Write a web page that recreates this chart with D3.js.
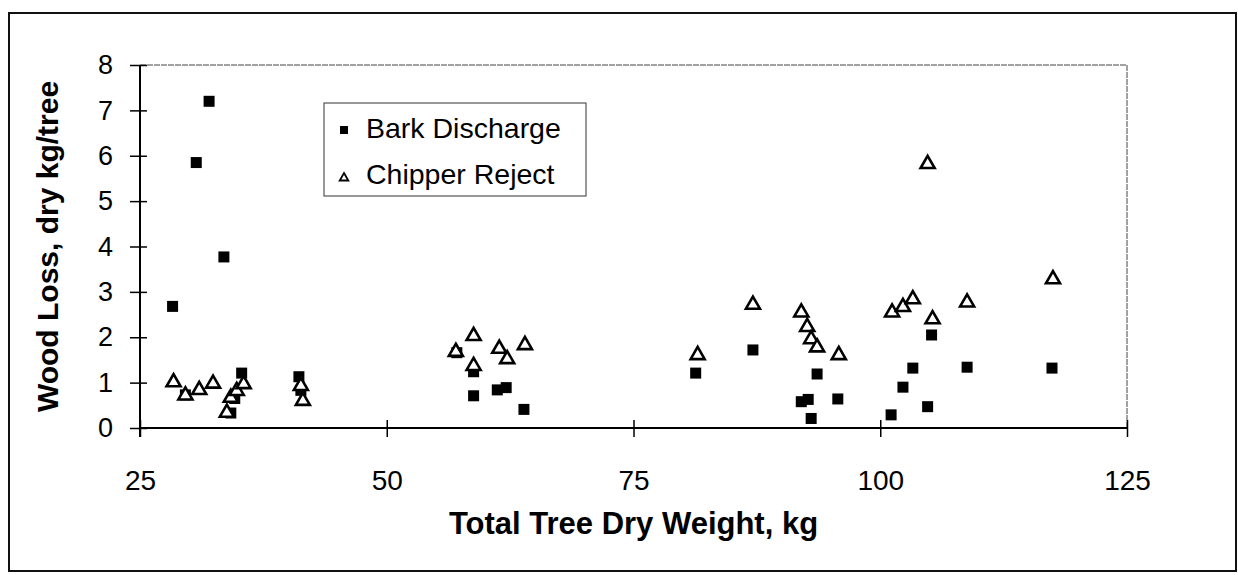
<!DOCTYPE html>
<html><head><meta charset="utf-8">
<script src="https://cdn.jsdelivr.net/npm/d3@7"></script>
<style>
html,body{margin:0;padding:0;background:#fff;}
svg{display:block;font-family:"Liberation Sans",Arial,sans-serif;}
</style></head>
<body>
<svg id="chart" width="1238" height="575"></svg>
<script>
// ---- data ----
const seriesNames = ["Bark Discharge", "Chipper Reject"];
const barkX = [28.3, 29.6, 30.7, 32.0, 33.5, 34.2, 34.6, 35.3, 41.1, 41.3, 57.1, 58.8, 58.8, 61.2, 62.1, 63.9, 81.3, 87.1, 92.0, 92.7, 93.0, 93.6, 95.7, 101.1, 102.3, 103.3, 104.8, 105.2, 108.8, 117.4];
const barkY = [2.68, 0.73, 5.85, 7.2, 3.77, 0.33, 0.65, 1.21, 1.13, 0.83, 1.66, 1.24, 0.71, 0.84, 0.89, 0.41, 1.21, 1.72, 0.58, 0.63, 0.21, 1.19, 0.64, 0.29, 0.90, 1.32, 0.47, 2.05, 1.34, 1.32];
const chipX = [28.4, 29.6, 31.0, 32.4, 33.8, 34.2, 34.8, 35.5, 41.3, 41.5, 57.0, 58.8, 58.8, 61.4, 62.2, 64.0, 81.5, 87.1, 92.0, 92.6, 93.0, 93.6, 95.8, 101.2, 102.3, 103.3, 104.8, 105.3, 108.8, 117.5];
const chipY = [1.03, 0.74, 0.86, 1.0, 0.36, 0.69, 0.84, 0.99, 0.95, 0.62, 1.70, 2.05, 1.39, 1.77, 1.54, 1.85, 1.63, 2.74, 2.57, 2.25, 1.98, 1.80, 1.63, 2.57, 2.69, 2.86, 5.84, 2.42, 2.79, 3.30];
const xTicks = [25, 50, 75, 100, 125];
const yTicks = [0, 1, 2, 3, 4, 5, 6, 7, 8];
const xTitle = "Total Tree Dry Weight, kg";
const yTitle = "Wood Loss, dry kg/tree";

// ---- layout ----
const svg = d3.select("#chart");
const L = 140, R = 1127, T = 65, B = 428;
const x = d3.scaleLinear().domain([25, 125]).range([L, R]);
const y = d3.scaleLinear().domain([0, 8]).range([B, T]);

// outer frame
svg.append("rect").attr("x", 9).attr("y", 13).attr("width", 1227).attr("height", 558)
  .attr("fill", "none").attr("stroke", "#111").attr("stroke-width", 2);

// plot area border (top/right, thin)
svg.append("path")
  .attr("d", `M${L},${T}H${R}V${B}`)
  .attr("fill", "none").attr("stroke", "#444").attr("stroke-width", 1).attr("stroke-dasharray", "6,1");

// y axis
const yAxis = d3.axisLeft(y).tickValues(yTicks).tickSize(10).tickPadding(17).tickFormat(d3.format("d"));
const gy = svg.append("g").attr("transform", `translate(${L},0)`).call(yAxis);
gy.select(".domain").attr("stroke", "#000").attr("stroke-width", 2).attr("d", `M0,${T}V${B + 9}`);
gy.selectAll(".tick line").attr("stroke", "#000").attr("stroke-width", 1.5).attr("x2", -10).attr("x1", 7);
gy.selectAll(".tick text").attr("font-size", 27).attr("fill", "#000")
  .attr("font-family", "'Liberation Sans',Arial,sans-serif");

// x axis
const xAxis = d3.axisBottom(x).tickValues(xTicks).tickSize(8).tickPadding(34).tickFormat(d3.format("d"));
const gx = svg.append("g").attr("transform", `translate(0,${B})`).call(xAxis);
gx.select(".domain").attr("stroke", "#000").attr("stroke-width", 2).attr("d", `M${L},0H${R}`);
gx.selectAll(".tick line").attr("stroke", "#000").attr("stroke-width", 1.5).attr("y1", -8).attr("y2", 9);
gx.selectAll(".tick text").attr("font-size", 28).attr("fill", "#000")
  .attr("font-family", "'Liberation Sans',Arial,sans-serif");

// axis titles
svg.append("text").attr("x", (L + R) / 2).attr("y", 534).attr("text-anchor", "middle")
  .attr("font-size", 31).attr("font-weight", "bold").text(xTitle);
svg.append("text").attr("transform", `translate(58,${(T + B) / 2}) rotate(-90)`)
  .attr("text-anchor", "middle").attr("font-size", 30).attr("font-weight", "bold").text(yTitle);

// marks
const bark = barkX.map((v, i) => ({ x: v, y: barkY[i] }));
const chip = chipX.map((v, i) => ({ x: v, y: chipY[i] }));
const sq = 11;
svg.append("g").selectAll("rect").data(bark).join("rect")
  .attr("x", d => x(d.x) - sq / 2).attr("y", d => y(d.y) - sq / 2)
  .attr("width", sq).attr("height", sq).attr("fill", "#000");

const tri = d3.symbol().type(d3.symbolTriangle).size(85);
svg.append("g").selectAll("path").data(chip).join("path")
  .attr("d", tri).attr("transform", d => `translate(${x(d.x)},${y(d.y) + 1})`)
  .attr("fill", "#fff").attr("stroke", "#000").attr("stroke-width", 2.6);

// legend
const lg = svg.append("g");
lg.append("rect").attr("x", 324).attr("y", 103).attr("width", 262).attr("height", 93)
  .attr("fill", "#fff").attr("stroke", "#333").attr("stroke-width", 1);
lg.append("rect").attr("x", 340).attr("y", 126).attr("width", 8).attr("height", 8).attr("fill", "#000");
lg.append("path").attr("d", d3.symbol().type(d3.symbolTriangle).size(32))
  .attr("transform", "translate(344,178)").attr("fill", "#fff").attr("stroke", "#000").attr("stroke-width", 1.8);
lg.append("text").attr("x", 366).attr("y", 138).attr("font-size", 28.5).text(seriesNames[0]);
lg.append("text").attr("x", 366).attr("y", 184).attr("font-size", 28.5).text(seriesNames[1]);
</script>
</body></html>
